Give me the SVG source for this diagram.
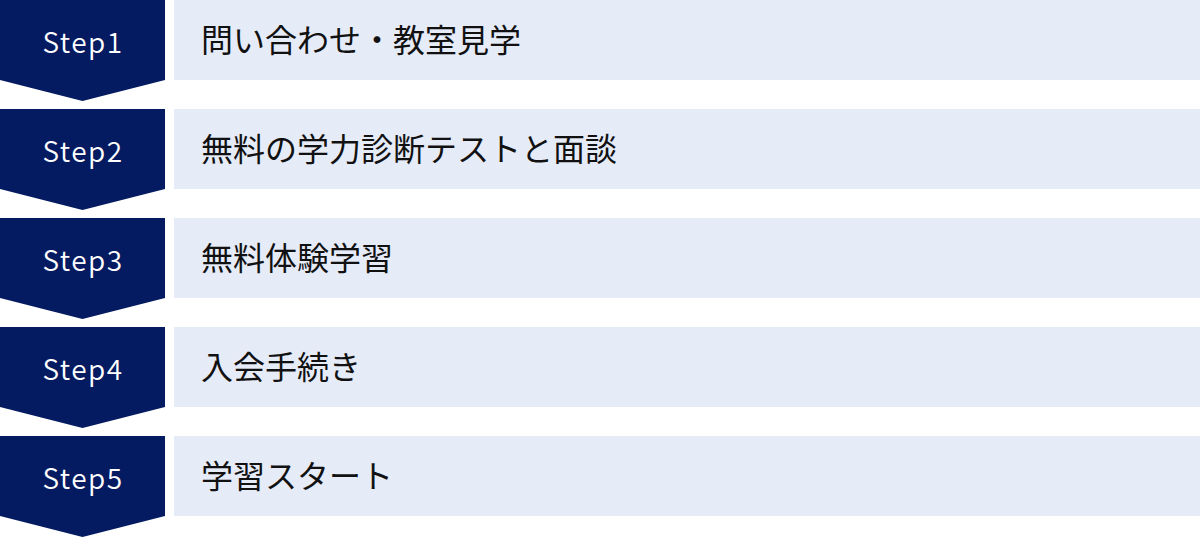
<svg xmlns="http://www.w3.org/2000/svg" width="1200" height="538" viewBox="0 0 1200 538">
<style>
.step{fill:#041a61}
.box{fill:#e6ebf8}
.sl{font-family:"Noto Sans CJK JP","Noto Sans",sans-serif;font-size:28px;font-weight:350;fill:#fff;text-anchor:middle;letter-spacing:1.5px}
.tl{font-family:"Noto Sans CJK JP",sans-serif;font-size:32px;font-weight:400;fill:#111}
</style>
<rect width="1200" height="538" fill="#fff"/>
<g id="step1">
<polygon class="step" points="0,0 165,0 165,80 82.5,101 0,80"/>
<rect class="box" x="174" y="0" width="1026" height="80"/>
<text class="sl" x="83" y="52.5">Step1</text>
<text class="tl" x="201" y="52">問い合わせ・教室見学</text>
</g>
<g id="step2">
<polygon class="step" points="0,109 165,109 165,189 82.5,210 0,189"/>
<rect class="box" x="174" y="109" width="1026" height="80"/>
<text class="sl" x="83" y="161.5">Step2</text>
<text class="tl" x="201" y="161">無料の学力診断テストと面談</text>
</g>
<g id="step3">
<polygon class="step" points="0,218 165,218 165,298 82.5,319 0,298"/>
<rect class="box" x="174" y="218" width="1026" height="80"/>
<text class="sl" x="83" y="270.5">Step3</text>
<text class="tl" x="201" y="270">無料体験学習</text>
</g>
<g id="step4">
<polygon class="step" points="0,327 165,327 165,407 82.5,428 0,407"/>
<rect class="box" x="174" y="327" width="1026" height="80"/>
<text class="sl" x="83" y="379.5">Step4</text>
<text class="tl" x="201" y="379">入会手続き</text>
</g>
<g id="step5">
<polygon class="step" points="0,436 165,436 165,516 82.5,537 0,516"/>
<rect class="box" x="174" y="436" width="1026" height="80"/>
<text class="sl" x="83" y="488.5">Step5</text>
<text class="tl" x="201" y="488">学習スタート</text>
</g>
<g id="connectors"></g>
</svg>
